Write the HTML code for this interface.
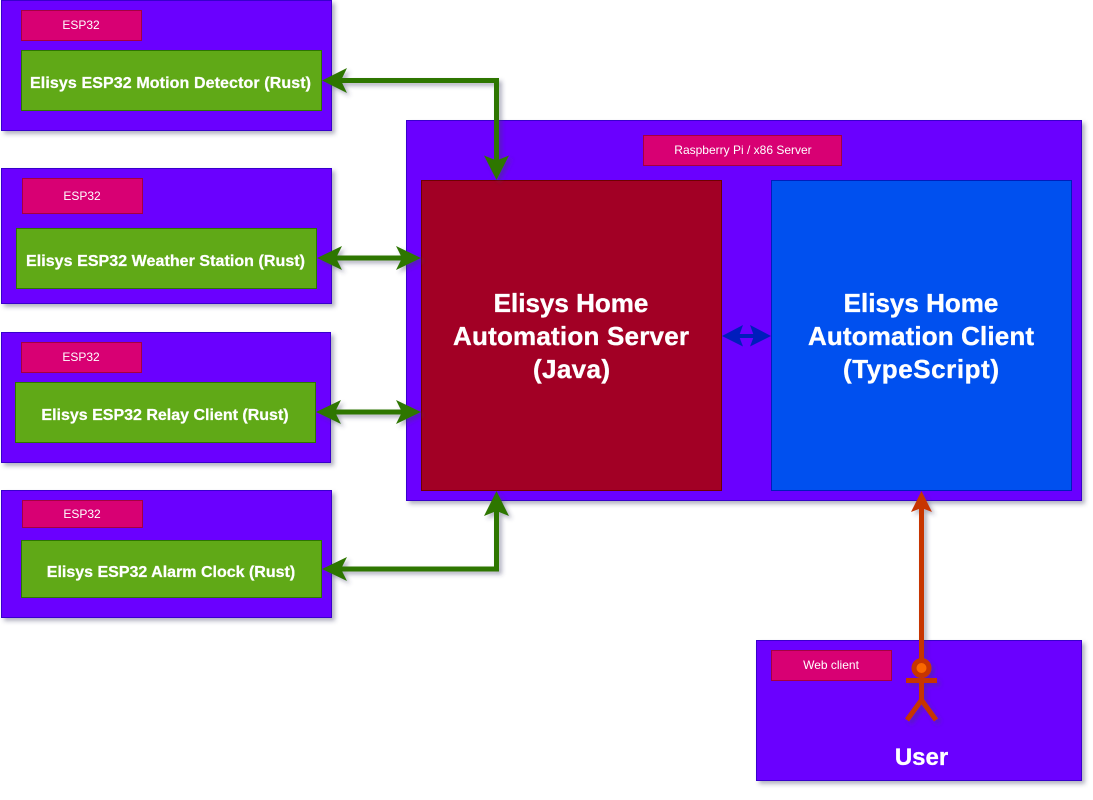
<!DOCTYPE html>
<html><head><meta charset="utf-8"><style>
html,body{margin:0;padding:0;background:#fff}
svg{display:block}
text{font-family:"Liberation Sans",Arial,sans-serif;fill:#fff;text-anchor:middle}
.s{font-size:12px}
.g{font-size:16px;font-weight:bold;stroke:#fff;stroke-width:.25px}
.b{font-size:26px;font-weight:bold;stroke:#fff;stroke-width:.35px}
.p{fill:#6a00ff;stroke:#3700cc}
.l{fill:#d80073;stroke:#a50040}
.gr{fill:#60a917;stroke:#2d7600}
</style></head><body>
<svg width="1093" height="800" viewBox="0 0 1093 800" xmlns="http://www.w3.org/2000/svg">
<defs><filter id="sh" x="-10%" y="-10%" width="125%" height="125%"><feDropShadow dx="3" dy="3" stdDeviation="2" flood-color="#3c3c64" flood-opacity="0.4"/></filter></defs>

<g filter="url(#sh)">
<rect class="p" x="1.5" y="0.5" width="330" height="130"/>
<rect class="p" x="1.5" y="168.5" width="330" height="135"/>
<rect class="p" x="1.5" y="332.5" width="329" height="130"/>
<rect class="p" x="1.5" y="490.5" width="330" height="127"/>
<rect class="p" x="406.5" y="120.5" width="675" height="380"/>
<rect class="p" x="756.5" y="640.5" width="325" height="140"/>
</g>

<rect class="l" x="21.5" y="10.5" width="120" height="30"/>
<rect class="gr" x="21.5" y="50.5" width="300" height="60"/>
<rect class="l" x="22.5" y="178.5" width="120" height="35"/>
<rect class="gr" x="16.5" y="228.5" width="300" height="60"/>
<rect class="l" x="21.5" y="342.5" width="120" height="30"/>
<rect class="gr" x="15.5" y="382.5" width="300" height="60"/>
<rect class="l" x="22.5" y="500.5" width="120" height="27"/>
<rect class="gr" x="21.5" y="540.5" width="300" height="57"/>
<rect class="l" x="643.5" y="135.5" width="198" height="30"/>
<rect x="421.5" y="180.5" width="300" height="310" fill="#a20025" stroke="#6f0000"/>
<rect x="771.5" y="180.5" width="300" height="310" fill="#0050ef" stroke="#001dbc"/>
<rect class="l" x="771.5" y="650.5" width="120" height="30"/>

<text class="s" x="81" y="29">ESP32</text>
<text class="g" x="170.500" y="88" textLength="281" lengthAdjust="spacing">Elisys ESP32 Motion Detector (Rust)</text>
<text class="s" x="82" y="200">ESP32</text>
<text class="g" x="165.500" y="266" textLength="279" lengthAdjust="spacing">Elisys ESP32 Weather Station (Rust)</text>
<text class="s" x="81" y="361">ESP32</text>
<text class="g" x="165" y="420">Elisys ESP32 Relay Client (Rust)</text>
<text class="s" x="82" y="518">ESP32</text>
<text class="g" x="171" y="577">Elisys ESP32 Alarm Clock (Rust)</text>
<text class="s" x="743" y="154">Raspberry Pi / x86 Server</text>
<text class="b" x="571" y="312">Elisys Home</text>
<text class="b" x="571" y="345" textLength="236" lengthAdjust="spacing">Automation Server</text>
<text class="b" x="571.500" y="378" textLength="77" lengthAdjust="spacing">(Java)</text>
<text class="b" x="921" y="312">Elisys Home</text>
<text class="b" x="921" y="345" textLength="226" lengthAdjust="spacing">Automation Client</text>
<text class="b" x="921" y="378" textLength="156" lengthAdjust="spacing">(TypeScript)</text>
<text class="s" x="831" y="669">Web client</text>
<text x="921.5" y="765" style="font-size:24px;font-weight:bold;stroke:#fff;stroke-width:.3px">User</text>

<g filter="url(#sh)">
<g fill="none" stroke="#2d7600" stroke-width="5">
<path d="M496.5 165V80.5H335"/>
<path d="M330 258H410"/>
<path d="M330 412H410"/>
<path d="M496.5 505V569H335"/>
</g>
<g fill="#2d7600">
<path d="M322 80.5L347 68L341 80.500L347 93Z"/>
<path d="M496.500 180L484 155.500L496.500 160.500L509 155.500Z"/>
<path d="M317 258L342 246L336 258L342 270Z"/>
<path d="M421 258L396 246L402 258L396 270Z"/>
<path d="M316 412L341 400L335 412L341 424Z"/>
<path d="M421 412L396 400L402 412L396 424Z"/>
<path d="M322 569L347 557L341 569L347 581Z"/>
<path d="M496.500 491L484 516L496.500 511L509 516Z"/>
</g>
<path d="M921.5 505V660" fill="none" stroke="#c73500" stroke-width="5"/>
<path d="M921.5 491L911 512L921.5 508L932 512Z" fill="#c73500"/>
<circle cx="921.5" cy="668" r="7.5" fill="#fa6800" stroke="#c73500" stroke-width="5"/>
<path d="M921.5 678V700M906 680.5H937M907 720L921.5 700L936 720" fill="none" stroke="#c73500" stroke-width="5"/>
</g>
<path d="M733 336H760" stroke="#001dbc" stroke-width="4" fill="none"/>
<path d="M722 336L743 325L739 336L743 346.500Z" fill="#001dbc"/>
<path d="M771 336L750 325L754 336L750 346.500Z" fill="#001dbc"/>
</svg>
</body></html>
